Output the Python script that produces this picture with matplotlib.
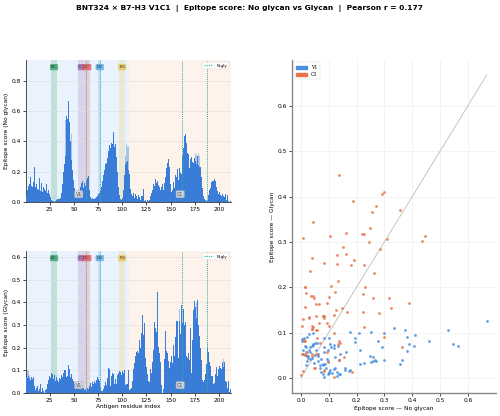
import numpy as np
import matplotlib
matplotlib.use("Agg")
import matplotlib.pyplot as plt
from matplotlib.patches import Patch
from matplotlib.lines import Line2D

# ---------------- data ----------------
residues = np.arange(1, 213)

nogly = [
    0.043, 0.082, 0.104, 0.118, 0.162, 0.108, 0.097, 0.133, 0.228, 0.102,
    0.121, 0.088, 0.079, 0.157, 0.071, 0.113, 0.128, 0.068, 0.097, 0.083,
    0.072, 0.118, 0.062, 0.081, 0.052, 0.031, 0.012, 0.004, 0.009, 0.002,
    0.008, 0.013, 0.018, 0.021, 0.017, 0.028, 0.057, 0.118, 0.196, 0.252,
    0.300, 0.565, 0.545, 0.668, 0.530, 0.410, 0.405, 0.278, 0.214, 0.142,
    0.092, 0.061, 0.048, 0.039, 0.052, 0.069, 0.098, 0.122, 0.138, 0.091,
    0.128, 0.103, 0.141, 0.158, 0.172, 0.079, 0.031, 0.019, 0.027, 0.022,
    0.018, 0.026, 0.033, 0.041, 0.053, 0.044, 0.062, 0.078, 0.101, 0.138,
    0.176, 0.214, 0.248, 0.260, 0.290, 0.335, 0.375, 0.355, 0.390, 0.380,
    0.460, 0.365, 0.380, 0.298, 0.196, 0.102, 0.043, 0.021, 0.012, 0.028,
    0.082, 0.176, 0.252, 0.265, 0.270, 0.258, 0.210,
    0.182, 0.083, 0.052, 0.041, 0.058, 0.029, 0.053, 0.037, 0.018, 0.047,
    0.031, 0.016, 0.039, 0.042, 0.083, 0.008, 0.015, 0.002, 0.011, 0.004,
    0.016, 0.039, 0.058, 0.082, 0.121, 0.103, 0.152, 0.128, 0.138, 0.131,
    0.109, 0.102, 0.078, 0.097, 0.120, 0.081, 0.126, 0.163, 0.224, 0.260,
    0.282, 0.228, 0.118, 0.063, 0.082, 0.132, 0.095, 0.180, 0.163, 0.220,
    0.146, 0.225, 0.192, 0.187, 0.310, 0.355, 0.434, 0.446, 0.389, 0.364,
    0.322, 0.315, 0.222, 0.285, 0.299, 0.262, 0.254, 0.290, 0.270, 0.250,
    0.300, 0.245, 0.228, 0.230, 0.164, 0.093, 0.041, 0.022, 0.016, 0.006,
    0.016, 0.043, 0.078, 0.095, 0.133, 0.140, 0.137, 0.153, 0.137, 0.118,
    0.100, 0.070, 0.054, 0.063, 0.044, 0.038, 0.053, 0.041, 0.030, 0.056,
    0.016, 0.047, 0.006, 0.000, 0.006,
]

gly = [
    0.072, 0.068, 0.074, 0.066, 0.058, 0.069, 0.061, 0.071, 0.032, 0.012,
    0.022, 0.031, 0.009, 0.018, 0.041, 0.011, 0.003, 0.021, 0.008, 0.002,
    0.012, 0.019, 0.038, 0.058, 0.077, 0.068, 0.089, 0.085, 0.062, 0.081,
    0.052, 0.071, 0.058, 0.049, 0.068, 0.061, 0.078, 0.072, 0.088, 0.101,
    0.100, 0.070, 0.075, 0.125, 0.105, 0.095, 0.070, 0.082, 0.061, 0.052,
    0.041, 0.048, 0.032, 0.043, 0.051, 0.028, 0.038, 0.047, 0.039, 0.021,
    0.012, 0.018, 0.009, 0.022, 0.016, 0.031, 0.042, 0.028, 0.049, 0.038,
    0.051, 0.043, 0.058, 0.071, 0.062, 0.074, 0.052, 0.028, 0.011, 0.008,
    0.018, 0.031, 0.048, 0.037, 0.068, 0.109, 0.105, 0.030, 0.075, 0.090,
    0.082, 0.040, 0.060, 0.040, 0.079, 0.088, 0.098, 0.091, 0.081, 0.097,
    0.088, 0.102, 0.035, 0.040, 0.038, 0.045, 0.100,
    0.012, 0.016, 0.021, 0.052, 0.106, 0.131, 0.164, 0.180, 0.187, 0.176,
    0.236, 0.200, 0.265, 0.343, 0.254, 0.308, 0.156, 0.115, 0.084, 0.052,
    0.050, 0.108, 0.089, 0.136, 0.189, 0.314, 0.289, 0.271, 0.448, 0.252,
    0.203, 0.178, 0.136, 0.034, 0.001, 0.017, 0.150, 0.274, 0.185, 0.177,
    0.143, 0.112, 0.138, 0.164, 0.133, 0.214, 0.165, 0.249, 0.320, 0.317,
    0.155, 0.317, 0.261, 0.390, 0.307, 0.370, 0.302, 0.313, 0.165, 0.068,
    0.154, 0.176, 0.145, 0.285, 0.090, 0.232, 0.367, 0.405, 0.380, 0.330,
    0.410, 0.300, 0.250, 0.200, 0.146, 0.056, 0.048, 0.056, 0.082, 0.130,
    0.200, 0.180, 0.136, 0.120, 0.074, 0.077, 0.039, 0.045, 0.082, 0.098,
    0.115, 0.076, 0.106, 0.120, 0.112, 0.108, 0.136, 0.115, 0.135, 0.052,
    0.050, 0.021, 0.052, 0.006, 0.016,
]

# lighter (raw) bars that rise above the main bars
nogly_raw = {41: 0.54, 48: 0.45, 103: 0.30, 104: 0.38, 105: 0.36, 106: 0.38,
             107: 0.36, 176: 0.32, 177: 0.31, 179: 0.32, 180: 0.30}
gly_raw = {1: 0.10, 2: 0.10, 3: 0.10, 4: 0.08, 159: 0.37, 177: 0.40,
           188: 0.22, 205: 0.15}

domain_names = ["V1", "C1"]
domain_bounds = [(0.5, 107.5), (107.5, 212.5)]
domain_label_x = [55, 160]

loop_names = ["BC", "C'", "CC'", "DE", "FG"]
loop_ranges = [(26.5, 32.5), (54.5, 60.0), (60.0, 66.5), (75.0, 78.5), (97.0, 103.0)]
loop_colors = ["#2ca25f", "#9467bd", "#e0525a", "#4aa3df", "#e6c34a"]

ngly_sites = [63, 77, 162, 188]

pearson_r = 0.177

# ---------------- style ----------------
plt.rcParams['font.family'] = ['DejaVu Sans']
FS = 4.2
bar_color = "#3a7dd8"
v1_color = "#4a8fe0"
c1_color = "#e8744a"
ngly_color = "#2bb3a8"
bg_colors = ["#eaf3fd", "#fdf3ea"]

fig = plt.figure(figsize=(5.0, 4.16), dpi=100)
fig.suptitle(f"BNT324 × B7-H3 V1C1  |  Epitope score: No glycan vs Glycan  |  Pearson r = {pearson_r:.3f}",
             fontsize=5.4, fontweight='bold', y=0.988)

ax_top = fig.add_axes([0.052, 0.5144, 0.410, 0.3413])
ax_bot = fig.add_axes([0.052, 0.0553, 0.410, 0.3413])
ax_sc = fig.add_axes([0.5834, 0.0553, 0.4086, 0.8005])


def draw_profile(ax, vals, raw, ylabel, xlabel=None):
    vals = np.asarray(vals)
    ymax = vals.max() * 1.4
    for (a, b), c in zip(domain_bounds, bg_colors):
        ax.axvspan(a, b, color=c, zorder=0, lw=0)
    for (a, b), c in zip(loop_ranges, loop_colors):
        ax.axvspan(a, b, color=c, alpha=0.22, zorder=1, lw=0)
    rx = np.array(list(raw.keys()))
    rv = np.array(list(raw.values()))
    ax.bar(rx, rv, width=1.0, color=bar_color, alpha=0.4, zorder=2, lw=0)
    ax.bar(residues, vals, width=1.0, color=bar_color, zorder=3, lw=0)
    for s in ngly_sites:
        ax.axvline(s, color=ngly_color, ls=(0, (1, 1)), lw=0.7, zorder=4)
    for (name, (a, b), c) in zip(loop_names, loop_ranges, loop_colors):
        ax.text((a + b) / 2, ymax * 0.95, name, ha='center', va='center', fontsize=3.2,
                color='#333333', zorder=6,
                bbox=dict(boxstyle='round,pad=0.25', fc=c, ec='none', alpha=0.75))
    for name, x in zip(domain_names, domain_label_x):
        ax.text(x, ymax * 0.055, name, ha='center', va='center', fontsize=3.4,
                color='#555555', zorder=6,
                bbox=dict(boxstyle='round,pad=0.25', fc='#dddddd', ec='#999999', lw=0.3, alpha=0.85))
    ax.set_xlim(0.5, 212.5)
    ax.set_ylim(0, ymax)
    ax.set_xticks([25, 50, 75, 100, 125, 150, 175, 200])
    ax.grid(axis='y', color='#dddddd', lw=0.4, zorder=0.5)
    ax.set_axisbelow(False)
    ax.set_ylabel(ylabel, fontsize=FS, labelpad=2)
    if xlabel:
        ax.set_xlabel(xlabel, fontsize=FS, labelpad=1)
    ax.tick_params(labelsize=FS, length=2, width=0.5, pad=1.5)
    for sp in ['top', 'right']:
        ax.spines[sp].set_visible(False)
    for sp in ['left', 'bottom']:
        ax.spines[sp].set_linewidth(0.6)
        ax.spines[sp].set_color('#333333')
    leg = ax.legend(handles=[Line2D([0], [0], color=ngly_color, ls=(0, (1, 1)), lw=0.8)],
                    labels=["N-gly"], loc='upper right', fontsize=3.0, frameon=True,
                    handlelength=2.2, borderpad=0.4, framealpha=0.9)
    leg.get_frame().set_linewidth(0.3)


draw_profile(ax_top, nogly, nogly_raw, "Epitope score (No glycan)")
draw_profile(ax_bot, gly, gly_raw, "Epitope score (Glycan)", "Antigen residue index")

# scatter
x = np.asarray(nogly)
y = np.asarray(gly)
is_v1 = residues <= 107
m = max(x.max(), y.max())
ax_sc.plot([0, m], [0, m], color='#bbbbbb', lw=0.6, zorder=1)
ax_sc.scatter(x[is_v1], y[is_v1], s=4, color=v1_color, alpha=0.85, lw=0, zorder=3)
ax_sc.scatter(x[~is_v1], y[~is_v1], s=4, color=c1_color, alpha=0.85, lw=0, zorder=3)
ax_sc.set_xlim(-0.05 * m, 1.05 * m)
ax_sc.set_ylim(-0.05 * m, 1.05 * m)
ax_sc.set_xticks(np.arange(0, 0.61, 0.1))
ax_sc.set_yticks(np.arange(0, 0.61, 0.1))
ax_sc.grid(color='#eeeeee', lw=0.5, zorder=0)
ax_sc.set_axisbelow(True)
ax_sc.set_xlabel("Epitope score — No glycan", fontsize=FS, labelpad=2)
ax_sc.set_ylabel("Epitope score — Glycan", fontsize=FS, labelpad=2)
ax_sc.tick_params(labelsize=FS, length=2, width=0.5, pad=1.5)
for sp in ['top', 'right']:
    ax_sc.spines[sp].set_visible(False)
for sp in ['left', 'bottom']:
    ax_sc.spines[sp].set_linewidth(1.0)
    ax_sc.spines[sp].set_color('#888888')
leg = ax_sc.legend(handles=[Patch(color=v1_color), Patch(color=c1_color)], labels=domain_names,
                   loc='upper left', frameon=True, handlelength=2.2,
                   handleheight=0.6, borderpad=0.5, prop={'family': 'DejaVu Serif', 'size': 3.4})
leg.get_frame().set_linewidth(0.3)

fig.savefig("out.png", dpi=100)
